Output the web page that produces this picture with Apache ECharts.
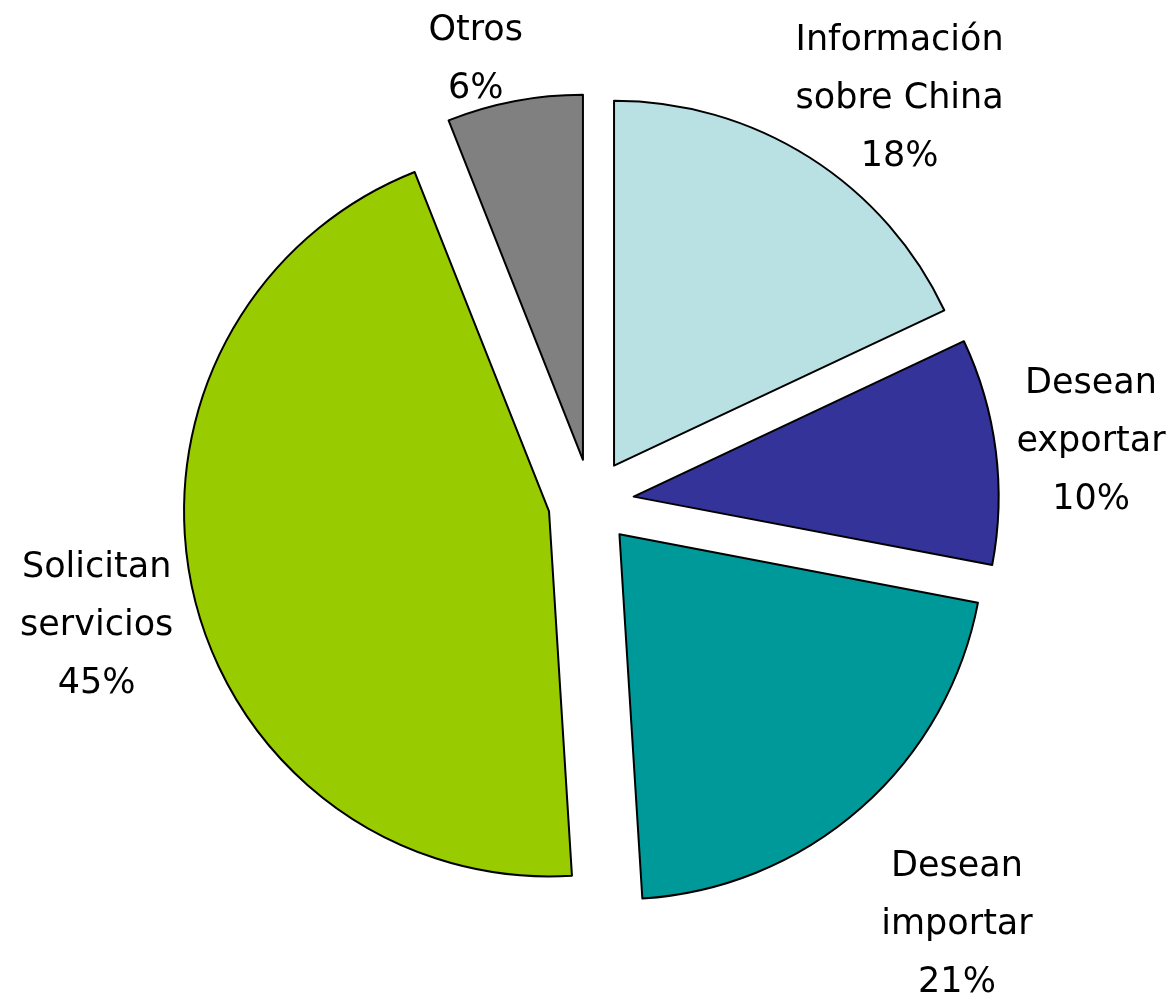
<!DOCTYPE html>
<html>
<head>
<meta charset="utf-8">
<script src="https://cdn.jsdelivr.net/npm/echarts@6/dist/echarts.min.js"></script>
<style>
html,body{margin:0;padding:0;background:#fff;}
#chart{width:1175px;height:997px;}
</style>
</head>
<body>
<div id="chart"></div>
<script>
const categories = ['Información\nsobre China', 'Desean\nexportar', 'Desean\nimportar', 'Solicitan\nservicios', 'Otros'];
const values = [18, 10, 21, 45, 6];
const colors = ['#B9E0E3', '#333399', '#009999', '#99CC00', '#808080'];

// layout (not data): pie geometry and label placement relative to each exploded slice
const CX = 591, CY = 502, R = 365, OFFSET = 43, LABEL_DY = 3;
const LABEL_POLAR = [[5.3, 467], [0, 461], [0.35, 514], [-1.3, 466], [-4.1, 417]]; // [angle shift deg, distance px]

const total = values.reduce((a, b) => a + b, 0);
const midAngles = [];
let acc = 0;
values.forEach(v => { midAngles.push((acc + v / 2) / total * 360); acc += v; });

const labelGraphics = values.map((v, i) => {
  const mid = midAngles[i] * Math.PI / 180;
  const sx = CX + OFFSET * Math.sin(mid), sy = CY - OFFSET * Math.cos(mid);
  const a = (midAngles[i] + LABEL_POLAR[i][0]) * Math.PI / 180;
  const d = LABEL_POLAR[i][1];
  return {
    type: 'text',
    x: sx + d * Math.sin(a),
    y: sy - d * Math.cos(a) + LABEL_DY,
    silent: true,
    style: {
      text: categories[i] + '\n' + v + '%',
      fontFamily: 'DejaVu Sans',
      fontSize: 35,
      lineHeight: 58,
      fill: '#000',
      align: 'center',
      verticalAlign: 'middle'
    }
  };
});

const chart = echarts.init(document.getElementById('chart'), null, {renderer: 'canvas'});
chart.setOption({
  animation: false,
  backgroundColor: '#ffffff',
  graphic: labelGraphics,
  series: [{
    type: 'pie',
    center: [CX, CY],
    radius: [0, R],
    startAngle: 90,
    clockwise: true,
    selectedMode: 'multiple',
    selectedOffset: OFFSET,
    avoidLabelOverlap: false,
    itemStyle: {borderColor: '#000', borderWidth: 2},
    select: {itemStyle: {borderColor: '#000', borderWidth: 2}},
    emphasis: {disabled: true},
    label: {show: false},
    labelLine: {show: false},
    data: categories.map((c, i) => ({
      name: c,
      value: values[i],
      selected: true,
      itemStyle: {color: colors[i]}
    }))
  }]
});
</script>
</body>
</html>
